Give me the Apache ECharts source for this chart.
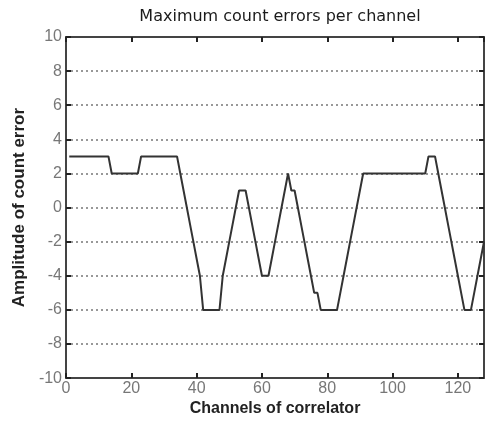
<!DOCTYPE html>
<html><head><meta charset="utf-8">
<script src="https://cdn.jsdelivr.net/npm/echarts@6/dist/echarts.min.js"></script>
<style>html,body{margin:0;padding:0;background:#fff}#c{width:486px;height:422px}</style>
</head><body><div id="c"></div>
<script>
const channels = [];
for (let i = 1; i <= 128; i++) channels.push(i);
const errors = [
  3,3,3,3,3,3,3,3,3,3,3,3,3,          // 1-13
  2,2,2,2,2,2,2,2,2,                  // 14-22
  3,3,3,3,3,3,3,3,3,3,3,3,            // 23-34
  2,1,0,-1,-2,-3,-4,-6,               // 35-42
  -6,-6,-6,-6,-6,                     // 43-47
  -4,-3,-2,-1,0,1,1,1,                // 48-55
  0,-1,-2,-3,-4,-4,-4,                // 56-62
  -3,-2,-1,0,1,2,1,1,                 // 63-70
  0,-1,-2,-3,-4,-5,-5,-6,             // 71-78
  -6,-6,-6,-6,-6,                     // 79-83
  -5,-4,-3,-2,-1,0,1,2,               // 84-91
  2,2,2,2,2,2,2,2,2,2,2,2,2,2,2,2,2,2,2, // 92-110
  3,3,3,2,1,0,-1,-2,-3,-4,-5,-6,      // 111-122
  -6,-6,-5,-4,-3,-2                   // 123-128
];
const xTicks = [0,20,40,60,80,100,120];
const yTicks = [-10,-8,-6,-4,-2,0,2,4,6,8,10];

const chart = echarts.init(document.getElementById('c'));
const axisLine = {show:true, onZero:false, lineStyle:{color:'#444', width:2}};
const tick = {show:true, inside:true, length:5, lineStyle:{color:'#222', width:2}};
const lblFont = {color:'#777', fontSize:16, fontFamily:'Liberation Sans, Arial, sans-serif'};
chart.setOption({
  animation:false,
  title:{text:'Maximum count errors per channel', left:275, top:4, textAlign:'center',
    textStyle:{fontSize:16, fontWeight:'normal', color:'#1a1a1a', fontFamily:'DejaVu Sans, sans-serif'}},
  grid:{left:66, right:2, top:37, bottom:41},
  xAxis:[{type:'value', min:0, max:128, interval:20, position:'bottom',
    axisLine, axisTick:tick, splitLine:{show:false},
    axisLabel:Object.assign({showMaxLabel:false, margin:2}, lblFont),
    name:'Channels of correlator', nameLocation:'middle', nameGap:21,
    nameTextStyle:{fontSize:16, fontWeight:'bold', color:'#222', fontFamily:'Liberation Sans, Arial, sans-serif'}},
    {type:'value', min:0, max:128, interval:20, position:'top',
    axisLine, axisTick:tick, axisLabel:{show:false}, splitLine:{show:false}}],
  yAxis:[{type:'value', min:-10, max:10, interval:2, position:'left',
    axisLine, axisTick:tick, axisLabel:Object.assign({margin:4}, lblFont),
    splitLine:{show:true, lineStyle:{color:'#777', type:[2,3], width:1.5}},
    name:'Amplitude of count error', nameLocation:'middle', nameGap:30,
    nameTextStyle:{fontSize:17, fontWeight:'bold', color:'#222', fontFamily:'Liberation Sans, Arial, sans-serif'}},
    {type:'value', min:-10, max:10, interval:2, position:'right',
    axisLine, axisTick:tick, axisLabel:{show:false}, splitLine:{show:false}}],
  series:[{type:'line', data:channels.map((c,i)=>[c, errors[i]]), symbol:'none',
    lineStyle:{color:'#333', width:2}}]
});
</script></body></html>
